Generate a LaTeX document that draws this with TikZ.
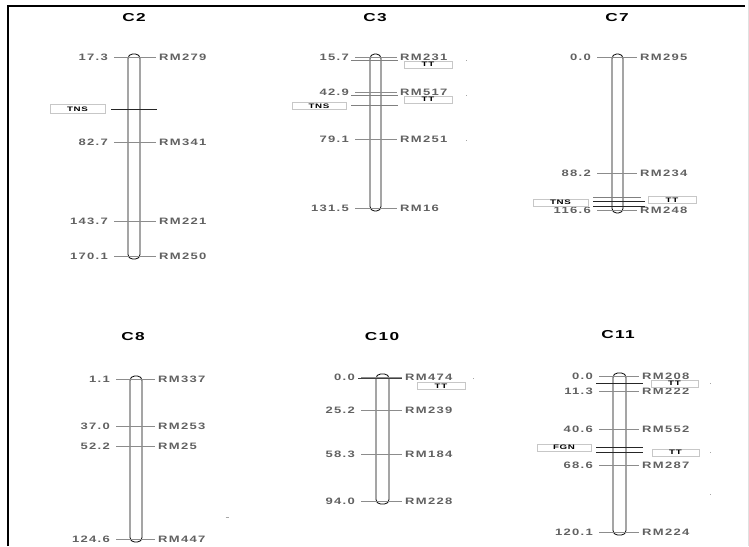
\documentclass[tikz,border=0pt]{standalone}
\usepackage{fontspec}
\setmainfont{Liberation Sans}
\newfontfamily\labfont[FakeStretch=1.4,LetterSpace=14]{Liberation Sans Bold}
\newfontfamily\titfont[FakeStretch=1.5,LetterSpace=12]{Liberation Sans Bold}
\newfontfamily\boxfont[FakeStretch=1.5,LetterSpace=10]{Liberation Sans Bold}
\begin{document}
\begin{tikzpicture}[x=1pt,y=-1pt,
  lab/.style={inner sep=0pt,text depth=0pt,font=\labfont\fontsize{9.3}{10}\selectfont,text=black!62},
  tit/.style={inner sep=0pt,font=\titfont\fontsize{11.5}{12}\selectfont},
  tick/.style={draw=black!45,line width=0.6pt},
  qtl/.style={draw=black!85,line width=1pt},
  qtlg/.style={draw=black!50,line width=0.9pt},
  bar/.style={draw=black,line width=0.8pt,rounded corners=4.5pt},
  qbox/.style={draw=black!22,line width=0.5pt,fill=white,inner sep=0pt,font=\boxfont\fontsize{6.5}{7}\selectfont},
  dotm/.style={fill=black!35,inner sep=0pt,minimum size=1pt}]
\useasboundingbox (0,0) rectangle (749,546);
% frame
\draw[line width=2.2pt] (8,546) -- (8,6) -- (745,6);
\draw[black!12,line width=1pt] (748,0) -- (748,546);
% marker macro: xL, xR, y, left text, right text, name
\newcommand\mkr[6]{%
  \coordinate (#6l) at (#1,#3); \coordinate (#6r) at (#2,#3);
  \draw[tick] (#6l) -- (#6r);
  \node[lab,anchor=east] (#6a) at (#1-6,#3) {#4};
  \node[lab,anchor=west] (#6b) at (#2+3,#3) {#5};}
%%%%%%%%%% C2
\node[tit] (t2) at (134,18) {C2};
\draw[bar] (128,54) rectangle (140,259);
\mkr{114}{156}{57}{17.3}{RM279}{a1}
\mkr{114}{156}{142}{82.7}{RM341}{a2}
\mkr{114}{156}{221}{143.7}{RM221}{a3}
\mkr{114}{156}{256}{170.1}{RM250}{a4}
\coordinate (q2a) at (111,109); \coordinate (q2b) at (157,109);
\draw[qtl] (q2a) -- (q2b);
\node[qbox,minimum width=55pt,minimum height=9pt] (b2) at (77.5,109) {TNS};
%%%%%%%%%% C3
\node[tit] (t3) at (375,18) {C3};
\draw[bar] (370,54) rectangle (381,211);
\mkr{355}{397}{57}{15.7}{RM231}{c1}
\mkr{355}{397}{92}{42.9}{RM517}{c2}
\mkr{355}{397}{139}{79.1}{RM251}{c3}
\mkr{355}{397}{208}{131.5}{RM16}{c4}
\coordinate (q3a) at (351,60); \coordinate (q3b) at (398,60);
\draw[qtlg] (q3a) -- (q3b);
\coordinate (q3c) at (351,95); \coordinate (q3d) at (398,95);
\draw[qtlg] (q3c) -- (q3d);
\coordinate (q3e) at (351,105); \coordinate (q3f) at (398,105);
\draw[qtlg] (q3e) -- (q3f);
\node[qbox,minimum width=48pt,minimum height=7pt] (b3a) at (428,64.5) {TT};
\node[qbox,minimum width=48pt,minimum height=7pt] (b3b) at (428,99.5) {TT};
\node[qbox,minimum width=54pt,minimum height=7pt] (b3c) at (319,106) {TNS};
\node[dotm] (d3a) at (466,60) {};
\node[dotm] (d3b) at (466,95) {};
\node[dotm] (d3c) at (466,140) {};
%%%%%%%%%% C7
\node[tit] (t7) at (617,18) {C7};
\draw[bar] (612,54) rectangle (623,213);
\mkr{597}{637}{57}{0.0}{RM295}{e1}
\mkr{597}{637}{173}{88.2}{RM234}{e2}
\mkr{597}{637}{210.5}{116.6}{RM248}{e3}
\coordinate (q7a) at (593,197); \coordinate (q7b) at (641,197);
\draw[qtlg] (q7a) -- (q7b);
\coordinate (q7c) at (593,201.5); \coordinate (q7d) at (645,201.5);
\draw[qtl] (q7c) -- (q7d);
\coordinate (q7e) at (593,206); \coordinate (q7f) at (645,206);
\draw[qtl] (q7e) -- (q7f);
\node[qbox,minimum width=55pt,minimum height=7pt] (b7a) at (560.5,202.5) {TNS};
\node[qbox,minimum width=48pt,minimum height=7pt] (b7b) at (672,200) {TT};
%%%%%%%%%% C8
\node[tit] (t8) at (133,337) {C8};
\draw[bar] (130,376) rectangle (142,542);
\mkr{116}{155}{379}{1.1}{RM337}{f1}
\mkr{116}{155}{426}{37.0}{RM253}{f2}
\mkr{116}{155}{446}{52.2}{RM25}{f3}
\mkr{116}{155}{539}{124.6}{RM447}{f4}
\coordinate (m8a) at (225.5,517); \coordinate (m8b) at (228.5,517);
\draw[black!35,line width=0.6pt] (m8a) -- (m8b);
%%%%%%%%%% C10
\node[tit] (t10) at (382,337) {C10};
\draw[bar] (376,374) rectangle (389,504);
\mkr{361}{402}{377}{0.0}{RM474}{g1}
\mkr{361}{402}{410}{25.2}{RM239}{g2}
\mkr{361}{402}{454}{58.3}{RM184}{g3}
\mkr{361}{402}{501}{94.0}{RM228}{g4}
\coordinate (q10a) at (358,378); \coordinate (q10b) at (402,378);
\draw[qtl,black!75] (q10a) -- (q10b);
\node[qbox,minimum width=48pt,minimum height=7pt] (b10) at (441,386) {TT};
\node[dotm] (d10) at (473,378) {};
%%%%%%%%%% C11
\node[tit] (t11) at (618,335) {C11};
\draw[bar] (613,373) rectangle (626,535);
\mkr{599}{639}{376}{0.0}{RM208}{h1}
\mkr{599}{639}{391}{11.3}{RM222}{h2}
\mkr{599}{639}{429}{40.6}{RM552}{h3}
\mkr{599}{639}{465}{68.6}{RM287}{h4}
\mkr{599}{639}{532}{120.1}{RM224}{h5}
\coordinate (q11a) at (596,383); \coordinate (q11b) at (643,383);
\draw[qtl] (q11a) -- (q11b);
\coordinate (q11c) at (596,447); \coordinate (q11d) at (643,447);
\draw[qtl] (q11c) -- (q11d);
\coordinate (q11e) at (596,452); \coordinate (q11f) at (643,452);
\draw[qtl] (q11e) -- (q11f);
\node[qbox,minimum width=47pt,minimum height=7pt] (b11a) at (674.5,383.5) {TT};
\node[qbox,minimum width=54pt,minimum height=7pt] (b11b) at (564,447.5) {FGN};
\node[qbox,minimum width=47pt,minimum height=7pt] (b11c) at (675.5,452.5) {TT};
\node[dotm] (d11a) at (710,383) {};
\node[dotm] (d11b) at (710,452) {};
\node[dotm] (d11c) at (710,494) {};
\end{tikzpicture}
\end{document}
